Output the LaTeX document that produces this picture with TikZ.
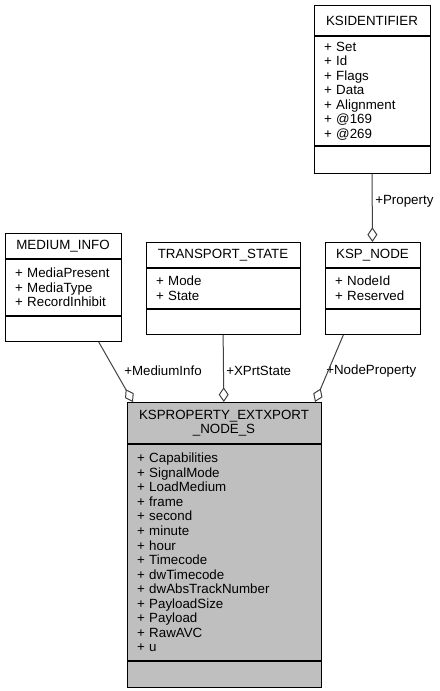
\documentclass[tikz,border=0pt]{standalone}
\usepackage{fontspec}
\setmainfont{Liberation Sans}
\usetikzlibrary{arrows.meta,positioning}
\tikzset{every node/.style={draw=none,inner sep=0pt,font=\fontsize{10}{10.9}\selectfont}}
\tikzset{cls/.style 2 args={draw,line width=0.75pt,fill=white,anchor=north,inner xsep=7.5pt,text width=#1,minimum height=#2},
  attr/.style={align=left},
  head/.style={align=center},
  assoc/.style={draw=black!75,line width=0.75pt,-{Diamond[open,length=11pt,width=7.5pt]}}}

\begin{document}
\begin{tikzpicture}[x=0.75pt,y=-0.75pt,node distance=0pt]
\useasboundingbox (0,0) rectangle (439,691);
      % classes
      \node[cls={72pt}{22.5pt},head] (ksid) at (372,5) {KSIDENTIFIER};
      \node[cls={72pt}{81.75pt},attr,below=of ksid] (ksidattr) {+ Set\\+ Id\\+ Flags\\+ Data\\+ Alignment\\+ @169\\+ @269};
      \node[cls={72pt}{20.25pt},below=of ksidattr] (ksidmeth) {};

      \node[cls={72pt}{18.75pt},head] (medinfo) at (63,233) {MEDIUM\_INFO};
      \node[cls={72pt}{42pt},attr,below=of medinfo] (medattr) {+ MediaPresent\\+ MediaType\\+ RecordInhibit};
      \node[cls={72pt}{18.75pt},below=of medattr] (medmeth) {};

      \node[cls={100.5pt}{18.75pt},head] (trans) at (223,242) {TRANSPORT\_STATE};
      \node[cls={100.5pt}{30pt},attr,below=of trans] (transattr) {+ Mode\\+ State};
      \node[cls={100.5pt}{18.75pt},below=of transattr] (transmeth) {};

      \node[cls={56.25pt}{18.75pt},head] (kspnode) at (372.5,242) {KSP\_NODE};
      \node[cls={56.25pt}{30pt},attr,below=of kspnode] (kspattr) {+ NodeId\\+ Reserved};
      \node[cls={56.25pt}{18.75pt},below=of kspattr] (kspmeth) {};

      \node[cls={130.5pt}{30.75pt},head,fill=black!25] (main) at (224,402) {KSPROPERTY\_EXTXPORT\\\_NODE\_S};
      \node[cls={130.5pt}{162pt},attr,fill=black!25,below=of main] (mainattr) {+ Capabilities\\+ SignalMode\\+ LoadMedium\\+ frame\\+ second\\+ minute\\+ hour\\+ Timecode\\+ dwTimecode\\+ dwAbsTrackNumber\\+ PayloadSize\\+ Payload\\+ RawAVC\\+ u};
      \node[cls={130.5pt}{19.5pt},fill=black!25,below=of mainattr] (mainmeth) {};

      % member labels
      \node[anchor=west] (lmed) at (124,371) {+MediumInfo};
      \node[anchor=west] (ltrans) at (226,371) {+XPrtState};
      \node[anchor=west] (lnode) at (326,371) {+NodeProperty};
      \node[anchor=west] (lprop) at (375,201) {+Property};

\foreach \a/\b in {medmeth.-20/main.167.5,transmeth/main,kspmeth.-156/main.13.4,ksidmeth/kspnode}
  \draw[assoc] (\a) -- (\b);
\end{tikzpicture}
\end{document}
